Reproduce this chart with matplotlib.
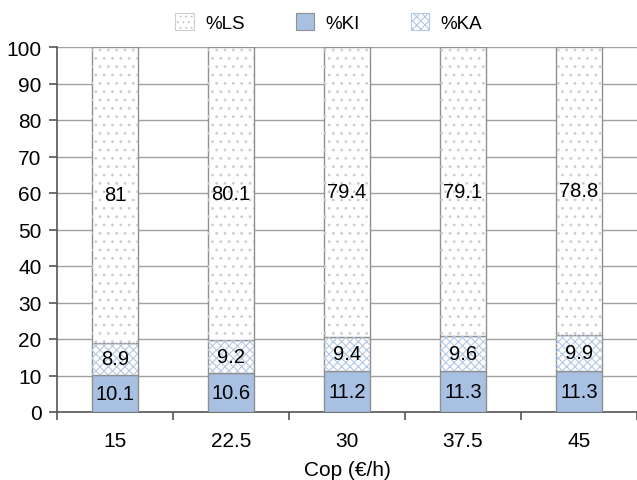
import matplotlib
matplotlib.use("Agg")
import matplotlib.pyplot as plt
from matplotlib.patches import Patch
import numpy as np

# Cost per hour scenarios and percentage shares
cop_labels = ["15", "22.5", "30", "37.5", "45"]
ki_pct = [10.1, 10.6, 11.2, 11.3, 11.3]
ka_pct = [8.9, 9.2, 9.4, 9.6, 9.9]
ls_pct = [81, 80.1, 79.4, 79.1, 78.8]
series_names = ["%LS", "%KI", "%KA"]

plt.rcParams["font.family"] = ["Liberation Sans", "DejaVu Sans"]
plt.rcParams["hatch.linewidth"] = 0.8

fig = plt.figure(figsize=(6.37, 4.81), dpi=100)
ax = fig.add_axes([57 / 637, 68 / 481, 580 / 637, 365 / 481])

x = np.arange(len(cop_labels))
width = 0.4
edge = "#8f8f8f"
ka_hatch_col = "#b3c8e4"
ls_hatch_col = "#cdcdcd"

ki = np.array(ki_pct)
ka = np.array(ka_pct)
ls = np.array(ls_pct)

ax.bar(x, ki, width, color="#a8c0e2", edgecolor=edge, linewidth=1.0, zorder=3)
ax.bar(x, ka, width, bottom=ki, facecolor="white", edgecolor=edge,
       linewidth=1.0, zorder=3)
ax.bar(x, ls, width, bottom=ki + ka, facecolor="white", edgecolor=edge,
       linewidth=1.0, zorder=3)

# hatch fills drawn as separate overlays so hatch colour differs from edge
ax.bar(x, ka, width, bottom=ki, facecolor="none", edgecolor=ka_hatch_col,
       hatch="xxxx", linewidth=0, zorder=3.5)
ax.bar(x, ls, width, bottom=ki + ka, facecolor="none", edgecolor=ls_hatch_col,
       hatch="..", linewidth=0, zorder=3.5)

fs = 15
fs_in = 14.5
for i in range(len(x)):
    ax.text(x[i], ki[i] / 2, f"{ki_pct[i]:g}", ha="center", va="center",
            fontsize=fs_in, zorder=5)
    ax.text(x[i], ki[i] + ka[i] / 2, f"{ka_pct[i]:g}", ha="center", va="center",
            fontsize=fs_in, zorder=5)
    ax.text(x[i], ki[i] + ka[i] + ls[i] / 2, f"{ls_pct[i]:g}", ha="center",
            va="center", fontsize=fs_in, zorder=5)

ax.set_xlim(-0.5, len(x) - 0.5)
ax.set_ylim(0, 100)
ax.set_yticks(np.arange(0, 101, 10))
ax.yaxis.grid(True, color="#a0a0a0", linewidth=1.0, zorder=0)
ax.set_axisbelow(True)

ax.set_xticks(x)
ax.set_xticklabels(cop_labels, fontsize=fs)
ax.set_xticks(np.arange(-0.5, len(x), 1.0), minor=True)
ax.tick_params(axis="x", which="major", length=0, pad=14)
ax.tick_params(axis="x", which="minor", length=6, width=1.2, color="#555555")
ax.tick_params(axis="y", length=6, width=1.2, color="#555555", labelsize=fs, pad=5)

for s in ["top", "right"]:
    ax.spines[s].set_visible(False)
for s in ["left", "bottom"]:
    ax.spines[s].set_color("#555555")
    ax.spines[s].set_linewidth(1.2)

ax.set_xlabel("Cop (€/h)", fontsize=fs, labelpad=7)

handles = [
    Patch(facecolor="white", edgecolor=ls_hatch_col, hatch="...", linewidth=0.8),
    Patch(facecolor="#a8c0e2", edgecolor="#8f8f8f", linewidth=0.8),
    Patch(facecolor="white", edgecolor=ka_hatch_col, hatch="xxxx", linewidth=0.8),
]
fig.legend(handles, series_names, loc="upper center", bbox_to_anchor=(0.516, 1.005),
           ncol=3, frameon=False, fontsize=fs - 1.5, handlelength=1.0,
           handleheight=1.0, columnspacing=2.7, handletextpad=0.6)

fig.savefig("out.png", dpi=100)
